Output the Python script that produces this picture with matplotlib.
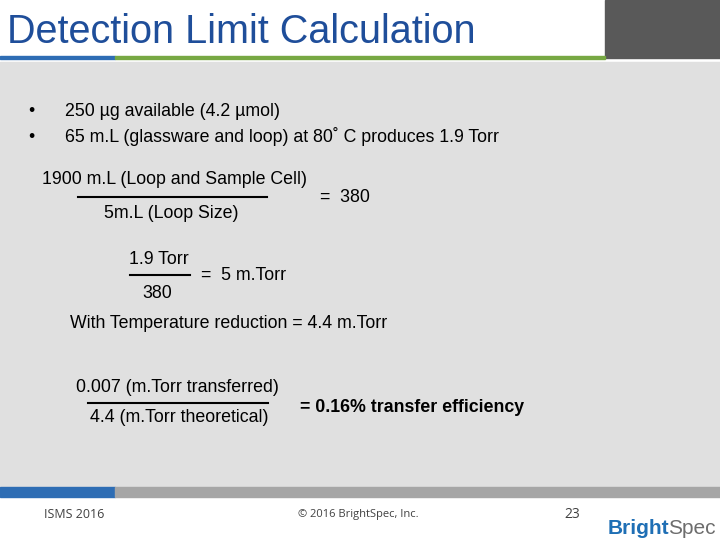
import matplotlib
matplotlib.use("Agg")
import matplotlib.pyplot as plt
from matplotlib.patches import Rectangle

title = "Detection Limit Calculation"
bullets = ["250 \u00b5g available (4.2 \u00b5mol)",
           "65 m.L (glassware and loop) at 80\u02da C produces 1.9 Torr"]
frac1 = ("1900 m.L (Loop and Sample Cell)", "5m.L (Loop Size)", "=  380")
frac2 = ("1.9 Torr", "380", "=  5 m.Torr")
temp_line = "With Temperature reduction = 4.4 m.Torr"
frac3 = ("0.007 (m.Torr transferred)", "4.4 (m.Torr theoretical)", "= 0.16% transfer efficiency")
footer = ["ISMS 2016", "\u00a9 2016 BrightSpec, Inc.", "23"]

fig = plt.figure(figsize=(7.2, 5.4), dpi=100)
ax = fig.add_axes([0, 0, 1, 1])
ax.set_xlim(0, 720); ax.set_ylim(540, 0); ax.axis("off")

ax.add_patch(Rectangle((605, 0), 115, 58, color="#595959"))
ax.add_patch(Rectangle((0, 56), 115, 3, color="#2e6db4"))
ax.add_patch(Rectangle((115, 56), 490, 3, color="#77a843"))
ax.add_patch(Rectangle((0, 62), 720, 425, color="#e0e0e0"))
ax.add_patch(Rectangle((0, 487), 115, 10, color="#2e6db4"))
ax.add_patch(Rectangle((115, 487), 605, 10, color="#a6a6a6"))

F = "Liberation Sans"
ax.text(7, 32, title, fontsize=28.5, color="#1f4e9a", va="center", family=F)
fs = 12.8
for i, b in enumerate(bullets):
    y = 112 + i * 25
    ax.text(28, y, "\u2022", fontsize=fs, va="center", family=F)
    ax.text(65, y, b, fontsize=fs, va="center", family=F)

ax.text(175, 180, frac1[0], fontsize=fs, ha="center", va="center", family=F)
ax.plot([78, 267], [197, 197], color="black", lw=1.5)
ax.text(171, 213, frac1[1], fontsize=fs, ha="center", va="center", family=F)
ax.text(320, 197, frac1[2], fontsize=fs, va="center", family=F)

ax.text(159, 259, frac2[0], fontsize=fs, ha="center", va="center", family=F)
ax.plot([130, 190], [275, 275], color="black", lw=1.5)
ax.text(157, 293, frac2[1], fontsize=fs, ha="center", va="center", family=F)
ax.text(201, 276, frac2[2], fontsize=fs, va="center", family=F)

ax.text(70, 323, temp_line, fontsize=fs, va="center", family=F)

ax.text(177, 387, frac3[0], fontsize=fs, ha="center", va="center", family=F)
ax.plot([88, 268], [403, 403], color="black", lw=1.5)
ax.text(179, 418, frac3[1], fontsize=fs, ha="center", va="center", family=F)
ax.text(300, 408, frac3[2], fontsize=fs, va="center", fontweight="bold", family=F)

ax.text(44, 515, footer[0], fontsize=9, va="center", color="#404040", family="Open Sans")
ax.text(358, 515, footer[1], fontsize=8, ha="center", va="center", color="#404040", family="Open Sans")
ax.text(572, 515, footer[2], fontsize=10, ha="center", va="center", color="#404040", family="Open Sans")
ax.text(608, 528, "Bright", fontsize=15, va="center", color="#1f6fb5", fontweight="bold", family=F)
ax.text(668, 528, "Spec", fontsize=15, va="center", color="#6d6d6d", family=F)

fig.savefig("out.png", dpi=100)
